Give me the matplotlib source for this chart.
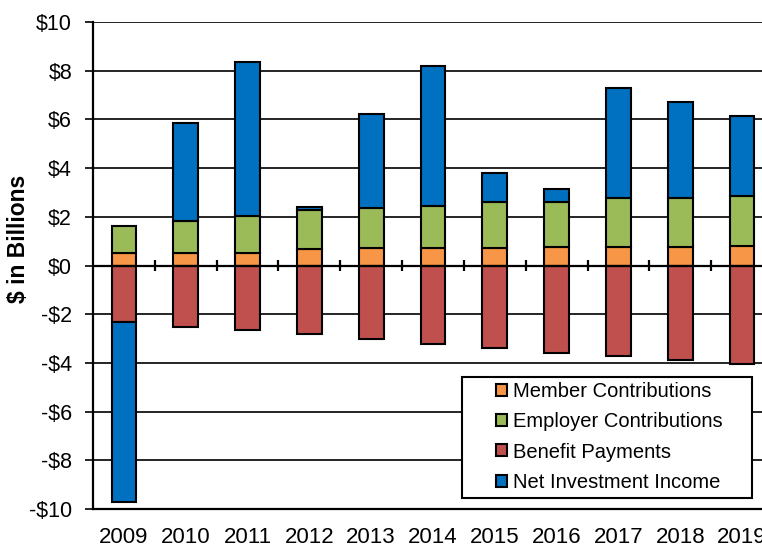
import matplotlib
matplotlib.use("Agg")
import matplotlib.pyplot as plt
from matplotlib.patches import Rectangle
import numpy as np

years = ["2009", "2010", "2011", "2012", "2013", "2014", "2015", "2016", "2017", "2018", "2019"]
member = [0.53, 0.53, 0.53, 0.68, 0.70, 0.72, 0.73, 0.75, 0.77, 0.77, 0.79]
employer = [1.10, 1.31, 1.50, 1.59, 1.66, 1.72, 1.88, 1.87, 2.01, 1.99, 2.06]
benefit = [-2.33, -2.51, -2.65, -2.83, -3.03, -3.22, -3.39, -3.59, -3.70, -3.88, -4.05]
net_inv = [-7.38, 4.01, 6.31, 0.14, 3.85, 5.77, 1.20, 0.53, 4.52, 3.94, 3.30]
yticks = [-10, -8, -6, -4, -2, 0, 2, 4, 6, 8, 10]

plt.rcParams['font.family'] = ['Liberation Sans', 'DejaVu Sans']

fig = plt.figure(figsize=(7.62, 5.49), dpi=100)
ax = fig.add_axes([93/762, 1 - 509/549, 680/762, 487/549])

x = np.arange(len(years))
w = 0.40
colors = {"m": "#F79646", "e": "#9BBB59", "b": "#C0504D", "n": "#0070C0"}

pos = np.zeros(len(years))
neg = np.zeros(len(years))
series = [("Member Contributions", member, colors["m"]),
          ("Employer Contributions", employer, colors["e"]),
          ("Benefit Payments", benefit, colors["b"]),
          ("Net Investment Income", net_inv, colors["n"])]
handles = []
for name, vals, c in series:
    vals = np.array(vals)
    bottoms = np.where(vals >= 0, pos, neg)
    h = ax.bar(x, vals, w, bottom=bottoms, color=c, edgecolor="black",
               linewidth=1.5, label=name, zorder=3)
    handles.append(h)
    pos = pos + np.where(vals >= 0, vals, 0)
    neg = neg + np.where(vals < 0, vals, 0)

ax.set_xlim(-0.5, len(years) - 0.5)
ax.set_ylim(-10, 10)
ax.set_yticks(yticks)
ax.set_yticklabels([("-$%d" % -v) if v < 0 else ("$%d" % v) for v in yticks], fontsize=15.5)
for v in yticks:
    if v != 0:
        ax.axhline(v, color="black", lw=1.2, zorder=1)
ax.axhline(0, color="black", lw=1.6, zorder=4)
ax.vlines(x[:-1] + 0.5, -0.22, 0.22, color="black", lw=1.6, zorder=4)

ax.set_xticks(x)
ax.set_xticklabels(years, fontsize=16)
ax.tick_params(axis="x", length=0, pad=13)
ax.tick_params(axis="y", length=6, width=1.2, direction="out", pad=9)

for s in ["top", "right"]:
    ax.spines[s].set_visible(False)
ax.spines["left"].set_linewidth(1.6)
ax.spines["bottom"].set_linewidth(1.6)

ax.set_ylabel("$ in Billions", fontsize=16.5, fontweight="bold")
ax.yaxis.set_label_coords(-0.093, 0.555)

# legend box
box = Rectangle((462/762, 1 - 498/549), 290/762, 121/549, transform=fig.transFigure,
                facecolor="white", edgecolor="black", lw=1.5, zorder=5)
fig.patches.append(box)
leg = fig.legend(handles=handles, loc="upper left",
                 bbox_to_anchor=(496/762, 1 - 382/549),
                 fontsize=14.5, frameon=False,
                 handlelength=0.55, handleheight=0.55, handletextpad=0.3,
                 labelspacing=0.56, borderpad=0, borderaxespad=0)
leg.set_zorder(6)

fig.savefig("out.png", dpi=100)
